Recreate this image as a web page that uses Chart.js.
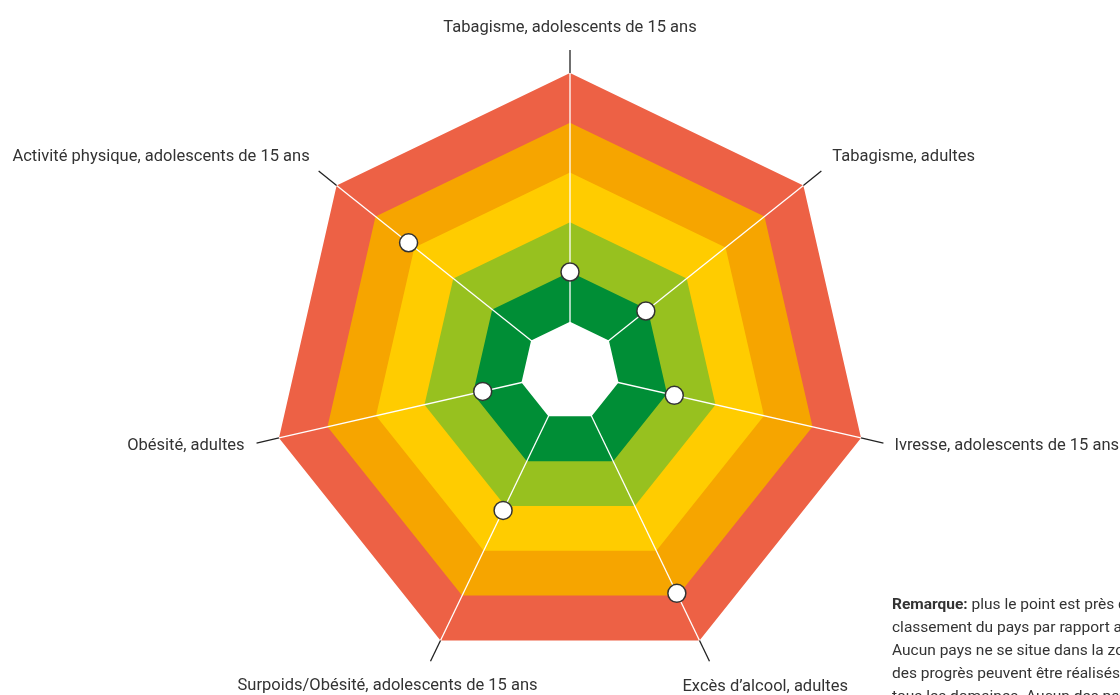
<!DOCTYPE html>
<html>
<head>
<meta charset="utf-8">
<script src="https://cdn.jsdelivr.net/npm/chart.js@4/dist/chart.umd.min.js"></script>
<style>
  html, body { margin: 0; padding: 0; background: #fff; overflow: hidden; }
  #wrap { width: 1120px; height: 695px; }
</style>
</head>
<body>
<div id="wrap"><canvas id="chart" width="1120" height="695"></canvas></div>
<script>
const categories = [
  'Tabagisme, adolescents de 15 ans',
  'Tabagisme, adultes',
  'Ivresse, adolescents de 15 ans',
  'Excès d\u2019alcool, adultes',
  'Surpoids/Obésité, adolescents de 15 ans',
  'Obésité, adultes',
  'Activité physique, adolescents de 15 ans'
];
const countryValues = [2.0, 1.95, 2.15, 4.95, 3.1, 1.8, 4.15];
const bandLevels = [1, 2, 3, 4, 5, 6];
const bandColors = ['#ffffff', '#008e36', '#97c11f', '#ffcc00', '#f6a500', '#ed6145'];
const noteLines = [
  ['Remarque:', ' plus le point est près du centre, meilleur est le'],
  ['', 'classement du pays par rapport aux autres pays de l\u2019UE.'],
  ['', 'Aucun pays ne se situe dans la zone blanche « cible », car'],
  ['', 'des progrès peuvent être réalisés dans tous les pays et dans'],
  ['', 'tous les domaines. Aucun des pays']
];

// label placement relative to the end of each tick line
const labelPlace = [
  { align: 'center', dx: 0, dy: -18 },
  { align: 'left', dx: 11, dy: -10 },
  { align: 'left', dx: 11, dy: 7 },
  { align: 'left', dx: -27, dy: 30 },
  { align: 'center', dx: -43, dy: 29 },
  { align: 'right', dx: -12, dy: 7 },
  { align: 'right', dx: -9, dy: -10 }
];
const TICK_OUT = 23;
const TEXT = '#333333';
const FONT = '"Roboto", "Noto Sans", sans-serif';

const spokes = {
  id: 'spokes',
  beforeDatasetDraw(chart, args) {
    if (args.index !== 0) return;
    const ctx = chart.ctx;
    const r = chart.scales.r;
    const R = r.getDistanceFromCenterForValue(r.max);
    ctx.save();
    ctx.lineWidth = 1.3;
    categories.forEach((c, i) => {
      const p0 = r.getPointPosition(i, 0);
      const p1 = r.getPointPosition(i, R);
      const p2 = r.getPointPosition(i, R + TICK_OUT);
      ctx.strokeStyle = '#ffffff';
      ctx.beginPath(); ctx.moveTo(p0.x, p0.y); ctx.lineTo(p1.x, p1.y); ctx.stroke();
      ctx.strokeStyle = '#222222';
      ctx.beginPath(); ctx.moveTo(p1.x, p1.y); ctx.lineTo(p2.x, p2.y); ctx.stroke();
    });
    ctx.restore();
  },
  afterDraw(chart) {
    const ctx = chart.ctx;
    const r = chart.scales.r;
    const R = r.getDistanceFromCenterForValue(r.max);
    ctx.save();
    ctx.fillStyle = TEXT;
    ctx.font = '16.5px ' + FONT;
    ctx.textBaseline = 'alphabetic';
    categories.forEach((c, i) => {
      const p = r.getPointPosition(i, R + TICK_OUT);
      const pl = labelPlace[i];
      ctx.textAlign = pl.align;
      ctx.fillText(c, p.x + pl.dx, p.y + pl.dy);
    });
    // note, cut by the right and bottom edges like the original
    ctx.textAlign = 'left';
    noteLines.forEach((ln, k) => {
      let x = 892;
      const y = 609 + k * 23;
      if (ln[0]) {
        ctx.font = 'bold 15.5px ' + FONT;
        ctx.fillText(ln[0], x, y);
        x += ctx.measureText(ln[0]).width;
      }
      ctx.font = '15.5px ' + FONT;
      ctx.fillText(ln[1], x, y);
    });
    ctx.restore();
  }
};

const datasets = [{
  label: 'Pays',
  data: countryValues,
  showLine: false,
  fill: false,
  borderWidth: 0,
  pointRadius: 9,
  pointHoverRadius: 9,
  pointBackgroundColor: '#ffffff',
  pointBorderColor: '#333333',
  pointBorderWidth: 1.5
}];
bandLevels.forEach((lvl, k) => {
  datasets.push({
    label: 'niveau ' + lvl,
    data: categories.map(() => lvl),
    backgroundColor: bandColors[k],
    borderWidth: 0,
    pointRadius: 0,
    pointHoverRadius: 0,
    fill: 'origin'
  });
});

new Chart(document.getElementById('chart'), {
  type: 'radar',
  data: { labels: categories, datasets },
  options: {
    responsive: false,
    animation: false,
    plugins: { legend: { display: false }, tooltip: { enabled: false } },
    elements: { line: { tension: 0 } },
    scales: {
      r: {
        min: 0,
        max: 6,
        ticks: { display: false, stepSize: 1 },
        grid: { display: false },
        angleLines: { display: false },
        pointLabels: { display: false },
        afterFit(scale) {
          scale.xCenter = 570;
          scale.yCenter = 371.5;
          scale.drawingArea = 298.5;
        }
      }
    }
  },
  plugins: [spokes]
});
</script>
</body>
</html>
